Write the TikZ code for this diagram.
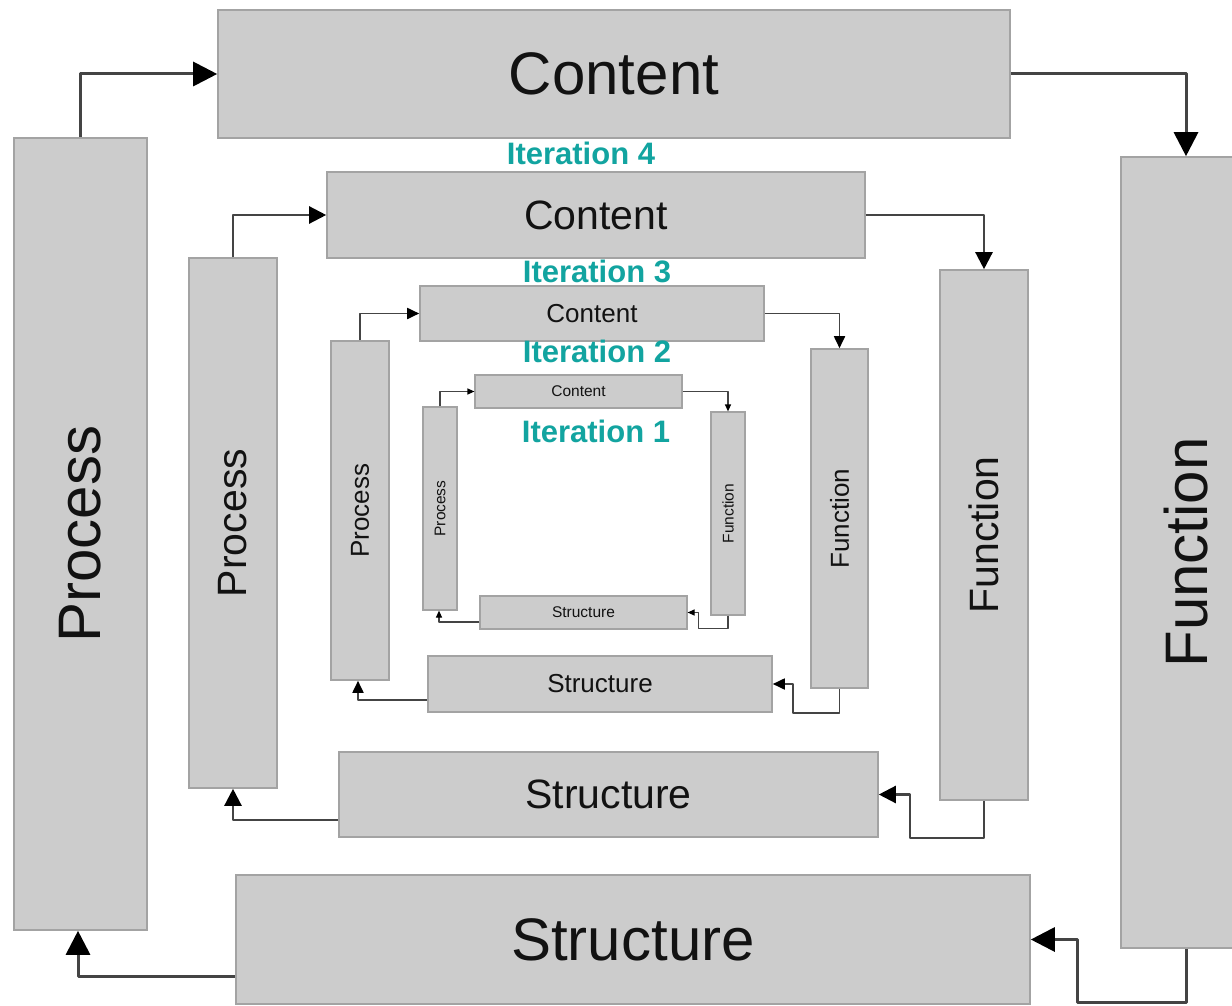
\documentclass[tikz,border=0pt]{standalone}
\usepackage{fontspec}
\usepackage{graphicx}
\setmainfont{Liberation Sans}
\usetikzlibrary{arrows.meta}

\definecolor{boxfill}{RGB}{204,204,204}
\definecolor{boxedge}{RGB}{163,163,163}
\definecolor{linkgray}{RGB}{68,68,68}
\definecolor{iterteal}{RGB}{18,164,160}
\definecolor{labeltext}{RGB}{18,18,18}

\newcommand{\fsz}[1]{\fontsize{#1}{#1}\selectfont}
\newcommand{\up}[1]{\rotatebox{90}{#1}}

\begin{document}
\begin{tikzpicture}[x=1pt,y=-1pt,
  box/.style={draw=boxedge, fill=boxfill, line width=1.6pt, inner sep=0pt, text=labeltext},
  ringfour/.style={box, font=\fsz{60}},
  ringthree/.style={box, font=\fsz{41}},
  ringtwo/.style={box, font=\fsz{26}},
  ringone/.style={box, font=\fsz{15.5}, line width=1.2pt},
  linkfour/.style={draw=linkgray, line width=3pt, line join=round,
    -{Triangle[length=24pt,width=24pt,color=black]}},
  linkthree/.style={draw=linkgray, line width=2.4pt, line join=round,
    -{Triangle[length=17pt,width=17pt,color=black]}},
  linktwo/.style={draw=linkgray, line width=1.8pt, line join=round,
    -{Triangle[length=12pt,width=11pt,color=black]}},
  linkone/.style={draw=linkgray, line width=1.2pt, line join=round,
    -{Triangle[length=7pt,width=6pt,color=black]}},
  iter/.style={text=iterteal, font=\fsz{31}\bfseries, inner sep=0pt}
]
\fill[white] (0,0) rectangle (1232,1006);
\useasboundingbox (0,0) rectangle (1232,1006);
\clip (0,0) rectangle (1232,1006);

% outer cycle
\node[ringfour, minimum width=792pt, minimum height=128pt] (c4) at (614,74) {Content};
\node[ringfour, minimum width=130pt, minimum height=791pt] (f4) at (1186,552.5) {\up{Function}};
\node[ringfour, minimum width=794pt, minimum height=129pt] (s4) at (633,939.5) {Structure};
\node[ringfour, minimum width=133pt, minimum height=792pt] (p4) at (80.5,534) {\up{Process}};

% third cycle
\node[ringthree, minimum width=538pt, minimum height=86pt] (c3) at (596,215) {Content};
\node[ringthree, minimum width=88pt, minimum height=530pt] (f3) at (984,535) {\up{Function}};
\node[ringthree, minimum width=539pt, minimum height=85pt] (s3) at (608.5,794.5) {Structure};
\node[ringthree, minimum width=88pt, minimum height=530pt] (p3) at (233,523) {\up{Process}};

% second cycle
\node[ringtwo, minimum width=344pt, minimum height=55pt] (c2) at (592,313.5) {Content};
\node[ringtwo, minimum width=57pt, minimum height=339pt] (f2) at (839.5,518.5) {\up{Function}};
\node[ringtwo, minimum width=344pt, minimum height=56pt] (s2) at (600,684) {Structure};
\node[ringtwo, minimum width=58pt, minimum height=339pt] (p2) at (360,510.5) {\up{Process}};

% first cycle
\node[ringone, minimum width=207pt, minimum height=33pt] (c1) at (578.5,391.5) {Content};
\node[ringone, minimum width=34pt, minimum height=203pt] (f1) at (728,513.5) {\up{Function}};
\node[ringone, minimum width=207pt, minimum height=33pt] (s1) at (583.5,612.5) {Structure};
\node[ringone, minimum width=34pt, minimum height=203pt] (p1) at (440,508.5) {\up{Process}};

% iteration labels
\node[iter] (it4) at (581,153) {Iteration 4};
\node[iter] (it3) at (597,271) {Iteration 3};
\node[iter] (it2) at (597,351) {Iteration 2};
\node[iter] (it1) at (596,431) {Iteration 1};

% connectors, outer cycle
\draw[linkfour] (p4.north) |- (c4.west);
\draw[linkfour] (c4.east) -| (f4.north);
\draw[linkfour] (f4.south) -- ++(0,54) -| ([xshift=47pt]s4.east) -- (s4.east);
\draw[linkfour] ([yshift=-37pt]s4.west) -| ([xshift=-2.5pt]p4.south);

% connectors, third cycle
\draw[linkthree] (p3.north) |- (c3.west);
\draw[linkthree] (c3.east) -| (f3.north);
\draw[linkthree] (f3.south) -- ++(0,37) -| ([xshift=31pt]s3.east) -- (s3.east);
\draw[linkthree] ([yshift=-25.5pt]s3.west) -| (p3.south);

% connectors, second cycle
\draw[linktwo] (p2.north) |- (c2.west);
\draw[linktwo] (c2.east) -| (f2.north);
\draw[linktwo] (f2.south) -- ++(0,24) -| ([xshift=20pt]s2.east) -- (s2.east);
\draw[linktwo] ([yshift=-16pt]s2.west) -| ([xshift=-2pt]p2.south);

% connectors, first cycle
\draw[linkone] (p1.north) |- (c1.west);
\draw[linkone] (c1.east) -| (f1.north);
\draw[linkone] (f1.south) -- ++(0,13) -| ([xshift=11pt]s1.east) -- (s1.east);
\draw[linkone] ([yshift=-9.5pt]s1.west) -| ([xshift=-1pt]p1.south);
\end{tikzpicture}
\end{document}
